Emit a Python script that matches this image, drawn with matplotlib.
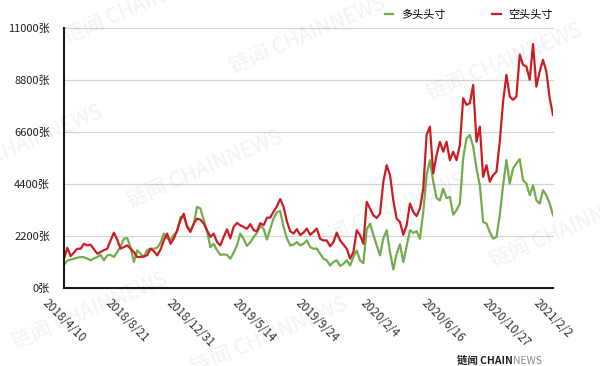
import matplotlib
matplotlib.use("Agg")
import matplotlib.pyplot as plt
from matplotlib.ticker import FuncFormatter

plt.rcParams["font.family"] = ["Noto Sans CJK SC", "DejaVu Sans"]

# weekly open positions, 2018/4/10 .. 2021/2/2
long_pos = [
    980, 1160, 1200, 1240, 1280, 1310, 1300, 1240, 1170, 1250,
    1310, 1400, 1170, 1380, 1400, 1310, 1520, 1750, 2080, 2110,
    1730, 1100, 1590, 1450, 1300, 1600, 1660, 1660, 1700, 1900,
    2300, 2100, 2020, 2250, 2370, 3000, 3000, 2620, 2450, 2700,
    3430, 3360, 2880, 2400, 1730, 1870, 1600, 1400, 1420, 1400,
    1240, 1500, 1800, 2300, 2080, 1780, 1930, 2150, 2330, 2620,
    2500, 2050, 2500, 2950, 3200, 3250, 2580, 2100, 1800, 1830,
    1940, 1800, 1870, 2010, 1730, 1660, 1660, 1450, 1240, 1170,
    950, 1100, 1170, 930, 1020, 1170, 950, 1310, 1590, 1170,
    1050, 2480, 2720, 2250, 1800, 1380, 2100, 2440, 1520, 780,
    1450, 1850, 1100, 1770, 2440, 2330, 2400, 2080, 3215, 4770,
    5400, 4500, 3800, 3700, 4200, 3800, 3850, 3100, 3290, 3570,
    5500, 6320, 6465, 5970, 5050, 4345, 2790, 2720, 2366, 2084,
    2155, 3073, 4345, 5405, 4415, 5050, 5264, 5447, 4557, 4415,
    3921, 4345, 3709, 3568, 4130, 3921, 3568, 3073,
]
short_pos = [
    1240, 1700, 1350, 1500, 1660, 1660, 1870, 1800, 1830, 1640,
    1450, 1520, 1600, 1660, 2010, 2340, 2040, 1660, 1730, 1800,
    1660, 1520, 1310, 1310, 1340, 1380, 1660, 1560, 1380, 1620,
    2010, 2300, 1870, 2080, 2440, 2860, 3140, 2580, 2370, 2720,
    2930, 2890, 2720, 2440, 2160, 2300, 1940, 1800, 2160, 2480,
    2100, 2580, 2750, 2650, 2580, 2500, 2700, 2440, 2400, 2740,
    2650, 2970, 2980, 3230, 3450, 3760, 3430, 2820, 2400, 2300,
    2490, 2240, 2340, 2510, 2250, 2370, 2510, 2080, 2010, 2010,
    1760, 1940, 2340, 2010, 1840, 1660, 1240, 1520, 2440, 2230,
    1870, 3640, 3360, 3070, 2960, 3140, 4490, 5190, 4770, 3700,
    2930, 2790, 2250, 2650, 3570, 3215, 3040, 3360, 4200, 6470,
    6820, 4840, 5620, 6180, 5760, 6180, 5400, 5760, 5400, 6040,
    8020, 7740, 7810, 8580, 6180, 6820, 4700, 5190, 4490, 4770,
    4910, 6180, 7880, 9010, 8090, 7950, 8090, 9860, 9430, 9360,
    8800, 10310, 8510, 9150, 9640, 9150, 8020, 7310,
]
tick_idx = [0, 19, 38, 57, 76, 95, 114, 133, 147]
tick_labels = ["2018/4/10", "2018/8/21", "2018/12/31", "2019/5/14", "2019/9/24",
               "2020/2/4", "2020/6/16", "2020/10/27", "2021/2/2"]
y_ticks = [0, 2200, 4400, 6600, 8800, 11000]

W, H = 600, 366
fig = plt.figure(figsize=(W / 100, H / 100), dpi=100)
ax = fig.add_axes([64 / W, 1 - 288 / H, (553 - 64) / W, (288 - 27.7) / H])

x = range(len(long_pos))
ax.plot(x, long_pos, color="#72ac4d", lw=1.6, label="多头头寸")
ax.plot(x, short_pos, color="#cc1d24", lw=1.6, label="空头头寸")

ax.set_xlim(0, len(long_pos) - 1)
ax.set_ylim(0, 11000)
ax.set_yticks(y_ticks)
ax.yaxis.set_major_formatter(FuncFormatter(lambda v, p: f"{int(v)}张"))
ax.set_xticks(tick_idx)
ax.set_xticklabels(tick_labels, rotation=-45, ha="center", fontsize=8.5, color="#333333")
ax.tick_params(axis="y", length=0, pad=10, labelsize=8, labelcolor="#222222")
ax.tick_params(axis="x", length=0, pad=6)

ax.grid(axis="y", color="#d4d4d4", lw=0.9)
ax.set_axisbelow(True)
for gl in ax.get_ygridlines():
    gl.set_clip_on(False)
for s in ["top", "right"]:
    ax.spines[s].set_visible(False)
for s in ["left", "bottom"]:
    ax.spines[s].set_linewidth(1.5)
    ax.spines[s].set_color("#1a1a1a")

fig.legend(loc="center right", bbox_to_anchor=(553 / W, 1 - 15 / H), ncol=2,
           frameon=False, fontsize=8, handlelength=0.75, handletextpad=0.7,
           columnspacing=4.2, borderaxespad=0, borderpad=0)

# faint tiled watermark
for px, py in [(67, 43), (233, 73), (430, 100), (-50, 182), (130, 207), (313, 250),
               (493, 267), (15, 349), (195, 374)]:
    fig.text(px / W, 1 - py / H, "链闻 CHAINNEWS", fontsize=15, color="black",
             alpha=0.05, rotation=23, rotation_mode="anchor", ha="left", va="baseline")

# logo at bottom right
logo = fig.text(457 / W, 1 - 361 / H, "链闻 CHAIN", fontsize=7.5, weight="bold",
                color="#222222", va="center")
fig.canvas.draw()
bb = logo.get_window_extent()
fig.text(bb.x1 / W + 0.5 / W, 1 - 361 / H, "NEWS", fontsize=7.5, color="#8a8a8a", va="center")

fig.savefig("out.png", dpi=100)
